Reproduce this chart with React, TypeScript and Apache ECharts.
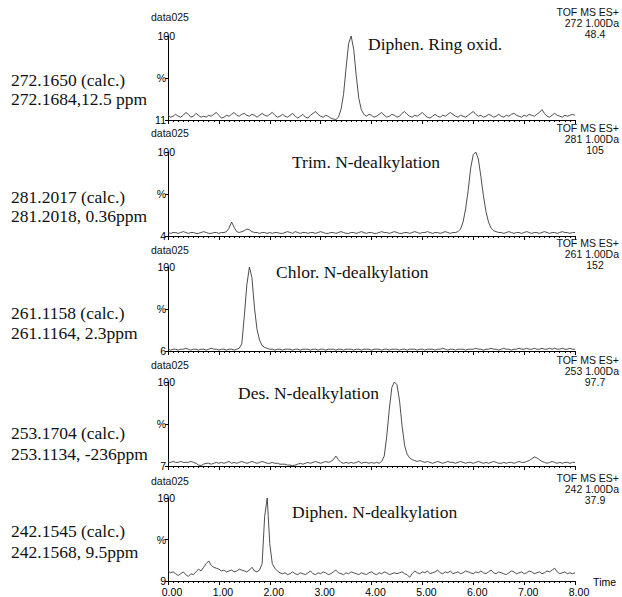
import React, { useEffect, useRef } from "react";
import * as echarts from "echarts";

// retention-time grid (min), sampled every 0.05 min from 0.00 to 8.00
const times: number[] = Array.from({ length: 161 }, (_, i) => Math.round(i * 5) / 100);

const massLabels = ["272", "281", "261", "253", "242"];
const intensityLabels = ["48.4", "105", "152", "97.7", "37.9"];
const baselineOffsets = [11, 4, 6, 7, 9];
const compoundNames = [
  "Diphen. Ring oxid.",
  "Trim. N-dealkylation",
  "Chlor. N-dealkylation",
  "Des. N-dealkylation",
  "Diphen. N-dealkylation",
];
const calcMasses = ["272.1650 (calc.)", "281.2017 (calc.)", "261.1158 (calc.)", "253.1704 (calc.)", "242.1545 (calc.)"];
const foundMasses = ["272.1684,12.5 ppm", "281.2018, 0.36ppm", "261.1164, 2.3ppm", "253.1134, -236ppm", "242.1568, 9.5ppm"];

// % intensity traces, rows = 1 min each (20 samples)
const trace272 = [
  16, 14, 15, 17, 15, 14, 16, 19, 17, 14, 15, 18, 16, 14, 15, 14, 16, 15, 17, 19,
  16, 13, 14, 16, 15, 17, 19, 16, 15, 17, 18, 16, 15, 17, 16, 14, 16, 18, 16, 15,
  17, 19, 16, 14, 15, 17, 15, 14, 16, 18, 15, 13, 15, 17, 14, 13, 16, 18, 20, 17,
  15, 14, 16, 15, 13, 12, 11.5, 14, 22, 38, 66, 92, 100, 86, 58, 34, 22, 17, 15, 17,
  16, 14, 15, 17, 19, 16, 14, 15, 17, 16, 14, 15, 18, 20, 17, 15, 14, 16, 15, 17,
  19, 16, 14, 13, 15, 17, 15, 14, 16, 15, 17, 19, 17, 15, 14, 16, 15, 14, 16, 18,
  20, 17, 15, 16, 14, 15, 17, 16, 14, 15, 17, 15, 14, 16, 15, 17, 18, 16, 15, 14,
  16, 15, 17, 16, 15, 17, 19, 22, 18, 15, 14, 16, 18, 16, 15, 14, 16, 15, 16, 17,
  16,
];
const trace281 = [
  8, 7, 8, 8, 7, 8, 9, 8, 7, 8, 8, 7, 7, 8, 9, 8, 7, 7, 8, 8,
  7, 8, 8, 9, 13, 20, 14, 9, 8, 9, 10, 12, 11, 9, 8, 8, 7, 8, 8, 7,
  8, 7, 8, 8, 7, 7, 8, 9, 8, 7, 9, 8, 7, 8, 8, 7, 8, 8, 7, 8,
  9, 8, 7, 7, 8, 8, 7, 8, 9, 8, 7, 7, 8, 8, 7, 8, 9, 8, 7, 8,
  8, 7, 7, 8, 9, 8, 8, 7, 8, 9, 8, 7, 7, 8, 8, 7, 8, 9, 8, 7,
  8, 8, 9, 8, 7, 8, 8, 7, 8, 9, 8, 7, 8, 8, 9, 12, 20, 35, 56, 82,
  97, 100, 92, 72, 50, 32, 20, 13, 10, 9, 8, 8, 7, 8, 9, 8, 7, 8, 8, 7,
  8, 9, 8, 7, 8, 8, 7, 8, 9, 8, 7, 8, 8, 7, 8, 9, 8, 8, 7, 8,
  8,
];
const trace261 = [
  8, 7, 8, 8, 7, 8, 8, 9, 8, 7, 8, 8, 7, 8, 8, 7, 8, 9, 8, 8,
  7, 8, 8, 7, 8, 8, 7, 8, 9, 14, 45, 80, 100, 88, 54, 30, 18, 12, 10, 9,
  8, 8, 7, 8, 8, 7, 8, 8, 8, 7, 8, 8, 7, 8, 8, 8, 7, 8, 8, 7,
  8, 8, 7, 8, 8, 8, 7, 8, 8, 7, 8, 8, 8, 7, 8, 8, 7, 8, 8, 8,
  7, 8, 8, 8, 7, 8, 8, 7, 8, 8, 8, 7, 8, 8, 7, 8, 8, 8, 7, 8,
  8, 7, 8, 8, 8, 7, 8, 8, 9, 8, 7, 8, 8, 7, 8, 8, 8, 7, 8, 8,
  8, 9, 8, 8, 7, 8, 8, 9, 8, 8, 7, 8, 9, 8, 8, 7, 8, 8, 9, 8,
  8, 9, 8, 8, 9, 8, 8, 9, 8, 8, 9, 8, 9, 8, 8, 9, 8, 8, 9, 8,
  8,
];
const trace253 = [
  11, 11, 12, 11, 11, 12, 11, 11, 11, 12, 11, 10, 8, 7.5, 9, 10, 10, 9, 10, 11,
  10, 11, 10, 11, 12, 10, 11, 10, 11, 12, 11, 10, 11, 12, 11, 10, 11, 12, 11, 10,
  10, 11, 10, 10, 9, 9, 9, 8, 8, 7.5, 8, 9, 10, 9, 10, 11, 10, 11, 12, 11,
  10, 11, 12, 11, 12, 14, 18, 14, 11, 10, 11, 10, 11, 10, 11, 12, 10, 11, 11, 10,
  11, 10, 11, 10, 12, 18, 40, 70, 94, 100, 97, 80, 52, 30, 20, 16, 14, 13, 12, 13,
  12, 11, 12, 11, 10, 11, 12, 11, 10, 11, 12, 11, 11, 10, 11, 12, 11, 10, 11, 11,
  10, 11, 12, 11, 10, 11, 10, 11, 12, 11, 10, 10, 11, 10, 11, 11, 10, 11, 12, 11,
  11, 12, 13, 15, 17, 16, 14, 12, 11, 10, 11, 12, 11, 10, 11, 10, 11, 11, 10, 11,
  11,
];
const trace242 = [
  20, 18, 19, 17, 15, 17, 19, 16, 14, 17, 16, 19, 22, 20, 24, 28, 31, 26, 24, 23,
  22, 20, 21, 19, 20, 21, 19, 20, 22, 21, 20, 19, 21, 24, 20, 19, 21, 28, 80, 100,
  50, 28, 23, 20, 18, 17, 18, 16, 17, 19, 17, 16, 18, 17, 16, 18, 20, 17, 16, 18,
  17, 19, 18, 16, 17, 19, 21, 18, 17, 16, 18, 17, 19, 18, 17, 16, 18, 17, 16, 18,
  19, 17, 16, 18, 17, 19, 18, 16, 17, 18, 17, 18, 19, 17, 16, 13, 17, 20, 18, 17,
  19, 18, 20, 17, 18, 19, 21, 18, 17, 19, 18, 20, 17, 18, 19, 17, 18, 20, 19, 18,
  17, 19, 18, 20, 18, 17, 19, 21, 18, 17, 19, 18, 17, 16, 18, 20, 19, 17, 18, 19,
  17, 18, 20, 19, 17, 18, 19, 17, 18, 20, 19, 21, 23, 19, 17, 18, 19, 17, 18, 17,
  18,
];
const traces = [trace272, trace281, trace261, trace253, trace242];

const SANS = "'Liberation Sans', Arial, sans-serif";
const SERIF = "'Liberation Serif', 'Times New Roman', serif";

export default function App() {
  const ref = useRef<HTMLDivElement>(null);

  useEffect(() => {
    if (!ref.current) return;
    const chart = echarts.init(ref.current, undefined, { renderer: "svg" });

    // layout (page px inside the 622x597 chart div)
    const plotTop = [36, 152, 267, 382, 498];
    const plotH = 84;
    const plotLeft = 168;
    const plotW = 407;
    const dataY = [17, 133, 250, 365, 481];
    const tofY = [12, 128, 243, 360, 478];
    const nameX = [368, 292, 276, 238, 292];
    const nameY = [44, 162, 272, 393, 512];
    const calcY = [80, 197, 313, 433, 531];
    const foundY = [99, 216, 333, 454, 552];

    const grids: any[] = [];
    const xAxes: any[] = [];
    const yAxes: any[] = [];
    const series: any[] = [];
    const graphics: any[] = [];

    const txt = (x: number, y: number, text: string, font: string, align = "left") => ({
      type: "text",
      x,
      y,
      silent: true,
      style: {
        text,
        font,
        fill: "#111",
        align,
        textAlign: align,
        verticalAlign: "middle",
        textVerticalAlign: "middle",
      },
    });

    traces.forEach((vals, i) => {
      const base = baselineOffsets[i];
      const mid = (base + 100) / 2;
      const last = i === traces.length - 1;
      grids.push({ left: plotLeft, top: plotTop[i], width: plotW, height: plotH, containLabel: false });
      xAxes.push({
        type: "value",
        gridIndex: i,
        min: 0,
        max: 8,
        interval: 1,
        axisLine: { show: true, onZero: false, lineStyle: { color: "#000", width: 1 } },
        axisTick: { show: true, length: 4, lineStyle: { color: "#000" } },
        minorTick: { show: true, splitNumber: 10, length: 2, lineStyle: { color: "#000" } },
        splitLine: { show: false },
        minorSplitLine: { show: false },
        axisLabel: {
          show: last,
          margin: 5,
          fontSize: 10.5,
          fontFamily: SANS,
          color: "#000",
          padding: [0, 0, 0, 8],
          formatter: (v: number) => v.toFixed(2),
        },
        name: last ? "Time" : "",
        nameLocation: "end",
        nameGap: 3,
        nameTextStyle: { fontSize: 10.5, fontFamily: SANS, color: "#000", verticalAlign: "top", padding: [-5, 0, 0, 0] },
      });
      yAxes.push({
        type: "value",
        gridIndex: i,
        min: base,
        max: 100,
        axisLine: { show: true, onZero: false, lineStyle: { color: "#000", width: 1 } },
        axisTick: { show: true, length: 3, customValues: [base, mid, 100], lineStyle: { color: "#000" } },
        splitLine: { show: false },
        axisLabel: {
          show: true,
          customValues: [base, mid, 100],
          margin: -7,
          align: "right",
          fontSize: 10.5,
          fontFamily: SANS,
          color: "#000",
          formatter: (v: number) => (v === 100 ? "{t|100}" : v === base ? `{o|${base}}` : "{o|%}"),
          rich: {
            t: { fontSize: 10.5, fontFamily: SANS, color: "#000" },
            o: { fontSize: 10.5, fontFamily: SANS, color: "#000", padding: [0, 9, 0, 0] },
          },
        },
      });
      series.push({
        type: "line",
        xAxisIndex: i,
        yAxisIndex: i,
        showSymbol: false,
        symbol: "none",
        lineStyle: { color: "#3a3a3a", width: 0.9 },
        data: times.map((t, k) => [t, vals[k]]),
      });

      const sansFont = `10.5px ${SANS}`;
      const serifFont = `17.5px ${SERIF}`;
      graphics.push(txt(151, dataY[i], "data025", sansFont));
      graphics.push(txt(619, tofY[i], "TOF MS ES+", sansFont, "right"));
      graphics.push(txt(619, tofY[i] + 11, `${massLabels[i]} 1.00Da`, sansFont, "right"));
      graphics.push(txt(595, tofY[i] + 22, intensityLabels[i], sansFont, "center"));
      graphics.push(txt(nameX[i], nameY[i], compoundNames[i], serifFont));
      graphics.push(txt(11, calcY[i], calcMasses[i], serifFont));
      graphics.push(txt(11, foundY[i], foundMasses[i], serifFont));
    });

    chart.setOption({
      animation: false,
      backgroundColor: "#fff",
      grid: grids,
      xAxis: xAxes,
      yAxis: yAxes,
      series,
      graphic: { elements: graphics },
    });

    return () => chart.dispose();
  }, []);

  return <div ref={ref} style={{ width: 622, height: 597, position: "absolute", left: 0, top: 0 }} />;
}
